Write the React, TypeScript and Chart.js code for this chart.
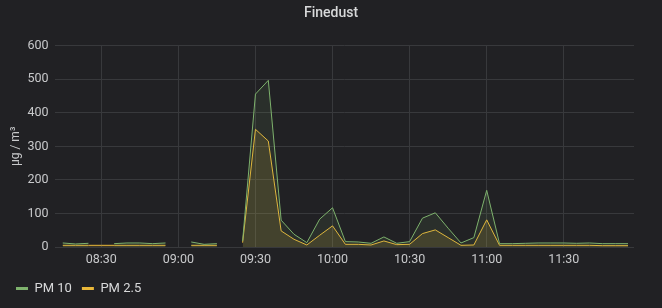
import React, { useEffect, useRef } from "react";
import { Chart, registerables } from "chart.js";

Chart.register(...registerables);

const times = [
  "08:15", "08:20", "08:25", "08:30", "08:35", "08:40", "08:45", "08:50", "08:55",
  "09:00", "09:05", "09:10", "09:15", "09:20", "09:25", "09:30", "09:35", "09:40",
  "09:45", "09:50", "09:55", "10:00", "10:05", "10:10", "10:15", "10:20", "10:25",
  "10:30", "10:35", "10:40", "10:45", "10:50", "10:55", "11:00", "11:05", "11:10",
  "11:15", "11:20", "11:25", "11:30", "11:35", "11:40", "11:45", "11:50", "11:55",
];

const pm10 = [
  12, 9, 11, null, 10, 12, 12, 10, 12,
  null, 15, 8, 10, null, 18, 456, 497, 80,
  38, 13, 83, 117, 16, 15, 11, 30, 11,
  16, 86, 102, 56, 12, 28, 169, 10, 10,
  11, 12, 12, 12, 11, 12, 10, 10, 10,
];

const pm25 = [
  5, 5, 5, 5, 5, 5, 5, 5, 5,
  null, 5, 5, 5, null, 13, 351, 316, 48,
  23, 6, 35, 63, 8, 8, 6, 18, 7,
  8, 40, 51, 28, 5, 6, 81, 5, 5,
  5, 5, 5, 5, 5, 5, 4, 4, 4,
];

const tickLabels = ["08:30", "09:00", "09:30", "10:00", "10:30", "11:00", "11:30"];
const rangeStart = "08:12:10";
const rangeEnd = "11:57:20";

const toMin = (s: string) => {
  const p = s.split(":").map(Number);
  return p[0] * 60 + p[1] + (p[2] || 0) / 60;
};
const fmt = (m: number) => {
  const h = Math.floor(m / 60);
  const mm = Math.round(m % 60);
  return String(h).padStart(2, "0") + ":" + String(mm).padStart(2, "0");
};

const GREEN = "#7EB26D";
const YELLOW = "#EAB839";
const GRID = "#38393c";
const TEXT = "#c8c9cb";
const FONT = "Roboto, 'Noto Sans', sans-serif";

export default function App() {
  const ref = useRef<HTMLCanvasElement>(null);

  useEffect(() => {
    if (!ref.current) return;
    const mk = (vals: (number | null)[]) =>
      times.map((t, i) => ({ x: toMin(t), y: vals[i] }));
    const chart = new Chart(ref.current, {
      type: "line",
      data: {
        datasets: [
          {
            label: "PM 10",
            data: mk(pm10) as any,
            borderColor: GREEN,
            backgroundColor: "rgba(126,178,109,0.10)",
            borderWidth: 1,
            pointRadius: 0,
            fill: "origin",
            spanGaps: false,
            tension: 0,
          },
          {
            label: "PM 2.5",
            data: mk(pm25) as any,
            borderColor: YELLOW,
            backgroundColor: "rgba(234,184,57,0.14)",
            borderWidth: 1,
            pointRadius: 0,
            fill: "origin",
            spanGaps: false,
            tension: 0,
          },
        ],
      },
      options: {
        animation: false,
        responsive: true,
        maintainAspectRatio: false,
        layout: { padding: { left: 6, right: 6, top: 0, bottom: 3 } },
        plugins: {
          title: {
            display: true,
            text: "Finedust",
            color: "#d8d9da",
            font: { family: FONT, size: 14, weight: "500" },
            padding: { top: 5, bottom: 24 },
          },
          tooltip: { enabled: false },
          legend: {
            display: true,
            position: "bottom",
            align: "start",
            labels: {
              color: "#d8d9da",
              font: { family: FONT, size: 13 },
              boxWidth: 12,
              boxHeight: 3,
              padding: 10,
              generateLabels: (c: any) =>
                c.data.datasets.map((d: any, i: number) => ({
                  text: d.label,
                  fillStyle: d.borderColor,
                  strokeStyle: d.borderColor,
                  lineWidth: 0,
                  datasetIndex: i,
                  hidden: false,
                  fontColor: "#d8d9da",
                })),
            },
          },
        },
        scales: {
          x: {
            type: "linear",
            min: toMin(rangeStart),
            max: toMin(rangeEnd),
            afterBuildTicks: (axis: any) => {
              axis.ticks = tickLabels.map((l) => ({ value: toMin(l) }));
            },
            ticks: {
              color: TEXT,
              font: { family: FONT, size: 12.5 },
              padding: 5,
              maxRotation: 0,
              autoSkip: false,
              callback: (v: any) => fmt(Number(v)),
            },
            grid: { color: GRID, drawTicks: false },
            border: { display: false },
          },
          y: {
            min: 0,
            max: 600,
            ticks: {
              stepSize: 100,
              color: TEXT,
              font: { family: FONT, size: 12.5 },
              padding: 7,
            },
            grid: { color: GRID, drawTicks: false },
            border: { display: false },
            title: {
              display: true,
              text: "µg / m³",
              color: TEXT,
              font: { family: FONT, size: 12 },
              padding: { top: 3, bottom: -3 },
            },
          },
          yRight: {
            position: "right",
            display: true,
            grid: { display: false },
            ticks: { display: false },
            border: { display: false },
            afterFit: (s: any) => {
              s.width = 22;
            },
          },
        },
      },
    });
    return () => chart.destroy();
  }, []);

  return (
    <div style={{ width: 662, height: 308, background: "#212124", position: "relative" }}>
      <style>{"body{margin:0;background:#212124}"}</style>
      <canvas ref={ref} />
    </div>
  );
}
